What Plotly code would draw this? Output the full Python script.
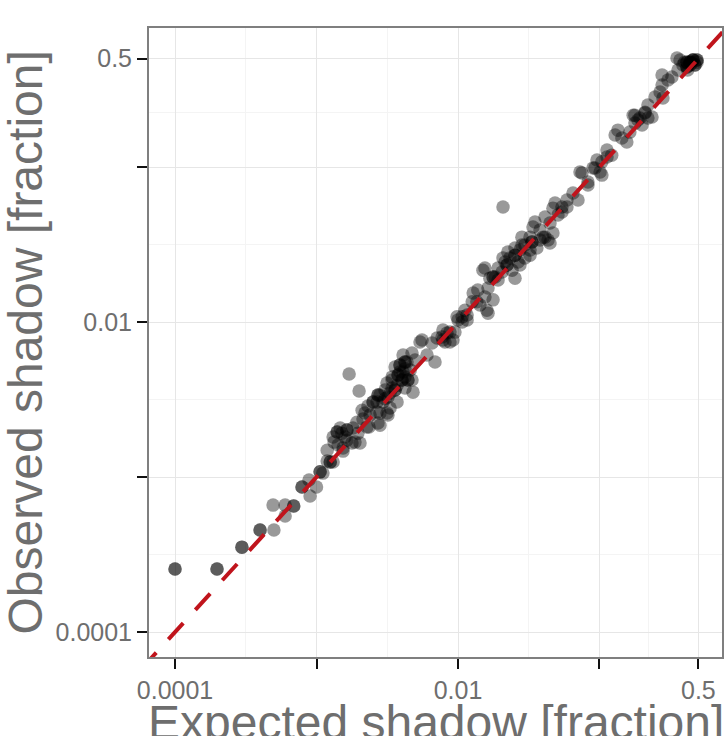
import plotly.graph_objects as go

# ---- data (expected vs observed shadow fraction) ----
expected = [
    1.0e-4, 1.0e-4, 1.98e-4, 1.98e-4, 2.97e-4, 2.97e-4, 3.99e-4, 3.99e-4,
    5.0e-4, 4.93e-4, 6.0e-4, 6.0e-4, 6.9e-4, 6.9e-4, 7.9e-4, 7.9e-4, 9.0e-4, 8.85e-4,
    1.0e-3, 1.06e-3, 1.06e-3, 1.11e-3, 1.19e-3, 1.25e-3, 1.25e-3, 1.31e-3, 1.19e-3,
    1.33e-3, 1.54e-3, 1.40e-3, 1.40e-3, 1.47e-3, 1.64e-3, 1.64e-3, 1.59e-3, 1.81e-3,
    1.78e-3, 2.03e-3, 1.93e-3, 2.13e-3, 2.20e-3, 2.35e-3, 2.10e-3, 2.31e-3, 2.51e-3,
    2.51e-3, 2.81e-3, 2.68e-3, 2.72e-3, 2.72e-3, 2.95e-3, 3.15e-3, 3.31e-3, 3.15e-3,
    3.59e-3, 3.59e-3, 3.42e-3, 3.77e-3, 3.77e-3, 3.59e-3, 3.89e-3, 3.89e-3, 4.22e-3,
    4.22e-3, 4.43e-3, 4.43e-3, 4.73e-3, 4.81e-3, 4.22e-3, 4.73e-3, 4.09e-3, 5.57e-3,
    6.04e-3, 6.55e-3, 6.88e-3, 7.83e-3, 8.77e-3, 9.52e-3, 1.70e-3, 2.0e-3,
    5.39e-3, 7.71e-3, 8.36e-3, 4.97e-3, 4.36e-3, 4.09e-3, 3.42e-3, 4.02e-3, 4.02e-3,
    4.22e-3, 3.05e-3, 2.81e-3, 3.20e-3, 2.68e-3, 3.71e-3, 3.31e-3, 3.20e-3, 2.39e-3,
    2.81e-3, 2.27e-3, 2.72e-3, 1.96e-3, 1.51e-3, 1.31e-3, 1.64e-3, 1.42e-3, 1.54e-3,
    1.87e-3, 3.89e-3, 3.71e-3, 4.60e-3, 4.22e-3, 3.42e-3, 3.05e-3,
    7.11e-3, 8.09e-3, 8.77e-3, 9.22e-3, 7.83e-3, 1.0e-2, 1.07e-2, 1.16e-2, 1.12e-2,
    1.16e-2, 1.28e-2, 1.26e-2, 1.36e-2, 1.43e-2, 1.60e-2, 1.63e-2, 1.55e-2, 1.77e-2,
    1.38e-2, 1.63e-2, 1.50e-2, 1.77e-2, 1.77e-2, 1.92e-2, 1.68e-2, 2.05e-2, 2.22e-2,
    2.22e-2, 2.53e-2, 2.41e-2, 2.25e-2, 2.53e-2, 2.53e-2, 2.66e-2, 2.74e-2, 2.97e-2,
    3.23e-2, 2.83e-2, 2.83e-2, 3.33e-2, 3.33e-2, 3.80e-2, 3.61e-2, 4.12e-2, 4.47e-2,
    4.69e-2, 1.07e-2, 9.84e-3, 1.55e-2, 1.83e-2, 2.08e-2, 2.74e-2, 3.23e-2, 3.23e-2,
    3.50e-2, 3.80e-2, 3.99e-2, 4.33e-2, 3.39e-2, 4.12e-2, 4.47e-2, 4.69e-2, 4.85e-2,
    5.09e-2, 5.43e-2, 5.89e-2, 6.50e-2, 7.05e-2, 7.52e-2, 8.29e-2, 9.29e-2, 0.104,
    0.113, 0.122, 2.08e-2,
    2.15e-2, 2.33e-2, 1.92e-2, 2.53e-2, 2.97e-2,
    5.43e-2, 5.89e-2, 7.28e-2, 8.29e-2, 9.0e-2, 0.101, 9.60e-2, 0.104, 0.113, 0.129,
    0.135, 0.144, 0.156, 0.164, 0.178, 0.187, 0.200, 0.178, 0.220, 0.210,
    0.173, 0.193, 0.210, 0.235, 0.220, 0.247, 0.268, 0.281, 0.277, 0.305, 0.277,
    0.325, 0.359, 0.353, 0.389, 0.415, 0.415, 0.415, 0.436, 0.436, 0.436, 0.458,
    0.458, 0.458, 0.473, 0.473, 0.415, 0.371, 0.489, 0.489,
    0.436, 0.400, 0.450, 0.489, 0.420,
]
observed = [
    2.55e-4, 2.55e-4, 2.55e-4, 2.55e-4, 3.53e-4, 3.53e-4, 4.55e-4, 4.55e-4,
    4.55e-4, 6.59e-4, 6.59e-4, 5.60e-4, 6.50e-4, 6.50e-4, 8.62e-4, 8.62e-4, 7.54e-4, 9.57e-4,
    8.62e-4, 1.08e-3, 1.08e-3, 1.06e-3, 1.27e-3, 1.25e-3, 1.25e-3, 1.25e-3, 1.49e-3,
    1.68e-3, 1.47e-3, 1.95e-3, 1.95e-3, 2.07e-3, 2.01e-3, 2.01e-3, 1.81e-3, 2.07e-3,
    1.66e-3, 1.66e-3, 2.26e-3, 2.37e-3, 2.59e-3, 2.10e-3, 2.70e-3, 2.87e-3, 3.05e-3,
    3.05e-3, 2.16e-3, 2.63e-3, 3.38e-3, 3.38e-3, 3.05e-3, 2.59e-3, 3.48e-3, 4.04e-3,
    3.64e-3, 3.64e-3, 4.42e-3, 4.55e-3, 4.55e-3, 5.13e-3, 5.28e-3, 5.28e-3, 5.52e-3,
    5.52e-3, 4.23e-3, 4.23e-3, 4.23e-3, 3.53e-3, 4.42e-3, 6.31e-3, 6.12e-3, 7.66e-3,
    6.12e-3, 7.32e-3, 5.52e-3, 7.66e-3, 7.43e-3, 8.61e-3, 4.62e-3, 3.59e-3,
    7.43e-3, 8.0e-3, 8.49e-3, 5.69e-3, 5.52e-3, 4.76e-3, 4.23e-3, 4.23e-3, 4.23e-3,
    3.75e-3, 3.64e-3, 3.38e-3, 3.28e-3, 3.05e-3, 3.05e-3, 2.79e-3, 2.51e-3, 2.51e-3,
    2.59e-3, 2.10e-3, 2.23e-3, 1.92e-3, 1.92e-3, 1.81e-3, 1.73e-3, 1.61e-3, 1.54e-3,
    1.68e-3, 4.76e-3, 3.90e-3, 4.90e-3, 5.00e-3, 3.75e-3, 3.20e-3,
    7.89e-3, 7.43e-3, 8.61e-3, 7.66e-3, 8.87e-3, 1.03e-2, 1.08e-2, 1.11e-2, 1.19e-2,
    1.03e-2, 1.54e-2, 1.35e-2, 1.35e-2, 1.29e-2, 1.19e-2, 1.14e-2, 1.45e-2, 1.39e-2,
    1.61e-2, 1.66e-2, 2.16e-2, 1.95e-2, 1.95e-2, 1.87e-2, 1.92e-2, 2.10e-2, 2.33e-2,
    2.33e-2, 1.92e-2, 2.16e-2, 2.83e-2, 2.70e-2, 2.70e-2, 2.44e-2, 2.92e-2, 2.59e-2,
    2.70e-2, 3.14e-2, 3.53e-2, 3.28e-2, 3.28e-2, 3.38e-2, 3.0e-2, 3.53e-2, 3.24e-2,
    3.75e-2, 1.0e-2, 1.08e-2, 2.23e-2, 1.95e-2, 2.59e-2, 2.33e-2, 2.92e-2, 3.53e-2,
    4.42e-2, 3.92e-2, 3.53e-2, 3.38e-2, 4.10e-2, 4.76e-2, 4.36e-2, 5.43e-2, 5.86e-2,
    4.90e-2, 5.13e-2, 6.12e-2, 6.79e-2, 6.12e-2, 9.14e-2, 8.0e-2, 9.86e-2, 8.87e-2,
    0.116, 0.119, 5.52e-2,
    2.44e-2, 2.59e-2, 2.23e-2, 3.0e-2, 3.14e-2,
    5.52e-2, 5.52e-2, 9.29e-2, 7.65e-2, 9.86e-2, 9.29e-2, 0.111, 0.108, 0.129, 0.161,
    0.173, 0.154, 0.145, 0.168, 0.192, 0.201, 0.187, 0.216, 0.207, 0.223,
    0.216, 0.207, 0.226, 0.210, 0.251, 0.283, 0.305, 0.279, 0.338, 0.364, 0.393,
    0.381, 0.423, 0.505, 0.455, 0.475, 0.475, 0.442, 0.475, 0.475, 0.475, 0.490,
    0.490, 0.490, 0.455, 0.455, 0.442, 0.490, 0.490, 0.490,
    0.455, 0.475, 0.470, 0.475, 0.423,
]

identity_line = [1e-5, 1.0]

tick_values = [1e-4, 1e-3, 1e-2, 1e-1, 0.5]
tick_labels = ["0.0001", "", "0.01", "", "0.5"]
minor_grid = [3.1623e-4, 3.1623e-3, 3.1623e-2, 0.2236]

TXT = "#6e6e6e"
FONT = "Liberation Sans, Arial, sans-serif"

fig = go.Figure()
fig.add_trace(go.Scatter(
    x=expected, y=observed, mode="markers",
    marker=dict(size=13.5, color="rgba(0,0,0,0.4)", line=dict(width=0)),
    hoverinfo="skip", showlegend=False,
))
fig.add_trace(go.Scatter(
    x=identity_line, y=identity_line, mode="lines",
    line=dict(color="#c0141c", width=4, dash="22px,18px"),
    hoverinfo="skip", showlegend=False,
))

axis_common = dict(
    type="log",
    tickvals=tick_values, ticktext=tick_labels,
    ticks="outside", ticklen=10, tickwidth=2, tickcolor="#111111",
    tickfont=dict(family=FONT, size=25, color=TXT),
    showline=True, linecolor="#7f7f7f", linewidth=2, mirror=True,
    showgrid=True, gridcolor="#e6e6e6", gridwidth=1.3,
    zeroline=False,
    minor=dict(tickvals=minor_grid, showgrid=True, gridcolor="#f4f4f4",
               gridwidth=1, ticks=""),
)
fig.update_xaxes(range=[-4.184, -0.134], **axis_common)
fig.update_yaxes(range=[-4.161, -0.103], **axis_common)

fig.add_annotation(
    text="Observed shadow [fraction]", xref="paper", yref="paper",
    x=(25 - 149) / 573, y=0.5, xanchor="center", yanchor="middle",
    textangle=-90, showarrow=False,
    font=dict(family=FONT, size=48, color=TXT),
)
fig.add_annotation(
    text="Expected shadow [fraction]", xref="paper", yref="paper",
    x=0.5, y=-(694 - 657) / 629, xanchor="center", yanchor="top",
    showarrow=False,
    font=dict(family=FONT, size=48, color=TXT),
)

fig.update_layout(
    width=728, height=736,
    margin=dict(l=149, r=6, t=28, b=79, autoexpand=False),
    paper_bgcolor="white", plot_bgcolor="white",
)

fig.write_html(
    "out.html",
    config={"displayModeBar": False},
    post_script="document.body.style.margin='0';document.body.style.overflow='hidden';",
)
